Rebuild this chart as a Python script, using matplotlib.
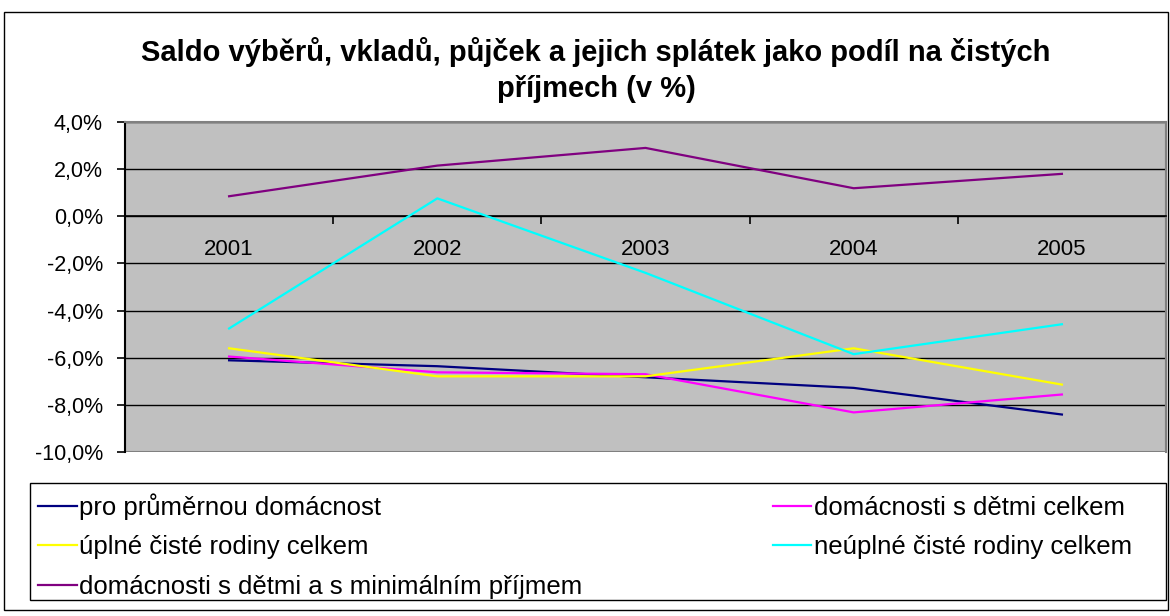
import matplotlib
matplotlib.use('Agg')
import matplotlib.pyplot as plt
from matplotlib.patches import Rectangle

years = ['2001', '2002', '2003', '2004', '2005']
prumerna = [-6.11, -6.36, -6.83, -7.28, -8.41]
s_detmi = [-5.95, -6.62, -6.70, -8.32, -7.56]
uplne = [-5.60, -6.79, -6.79, -5.60, -7.14]
neuplne = [-4.76, 0.76, -2.40, -5.85, -4.58]
minimalni = [0.85, 2.15, 2.90, 1.19, 1.80]

labels = ['pro průměrnou domácnost', 'domácnosti s dětmi celkem',
          'úplné čisté rodiny celkem', 'neúplné čisté rodiny celkem',
          'domácnosti s dětmi a s minimálním příjmem']
colors = ['#000080', '#ff00ff', '#ffff00', '#00ffff', '#800080']
title = ('Saldo výběrů, vkladů, půjček a jejich splátek jako podíl na čistých\n'
         'příjmech (v %)')

plt.rcParams['font.family'] = ['Liberation Sans', 'DejaVu Sans']

W, H = 1170, 616
fig = plt.figure(figsize=(W / 100, H / 100), dpi=100)
ax = fig.add_axes([125 / W, 1 - 452 / H, (1166 - 125) / W, (452 - 122) / H])
ax.set_facecolor('#c0c0c0')

x = list(range(len(years)))
series = [prumerna, s_detmi, uplne, neuplne, minimalni]
lines = []
for vals, lab, c in zip(series, labels, colors):
    ln, = ax.plot(x, vals, color=c, lw=1.6, label=lab, zorder=3)
    lines.append(ln)

ax.set_xlim(-0.5, len(years) - 0.5)
ax.set_ylim(-10, 4)
yt = list(range(-10, 5, 2))
ax.set_yticks(yt)
ax.set_yticklabels([f'{v:.1f}%'.replace('.', ',') for v in yt], fontsize=15.5)
ax.yaxis.grid(True, color='black', lw=1)
ax.set_axisbelow(True)
ax.tick_params(axis='y', direction='out', length=6, width=1.2, pad=10)

# x axis crosses at 0
ax.spines['bottom'].set_position(('data', 0))
ax.spines['bottom'].set_linewidth(1.2)
ax.set_xticks([i - 0.5 for i in range(len(years) + 1)])
ax.set_xticklabels([])
ax.set_xticks(x, minor=True)
ax.set_xticklabels(years, minor=True, fontsize=16)
ax.tick_params(axis='x', which='major', direction='out', length=6, width=1.2)
ax.tick_params(axis='x', which='minor', length=0, pad=16)

ax.spines['left'].set_linewidth(1.5)
for s in ['top', 'right']:
    ax.spines[s].set_color('#808080')
    ax.spines[s].set_linewidth(1.5)
ax.add_patch(Rectangle((0, 0), 1, 1, transform=ax.transAxes, fill=False,
                       ec='#808080', lw=1.5, zorder=1))

fig.text(596 / W, 1 - 70 / H, title, ha='center', va='center',
         fontsize=21, fontweight='bold', linespacing=1.35)

# frames
fig.add_artist(Rectangle((4 / W, 1 - 610 / H), (1168 - 4) / W, (610 - 12) / H,
                         transform=fig.transFigure, fill=False, ec='black', lw=1))
fig.add_artist(Rectangle((30 / W, 1 - 600 / H), (1166 - 30) / W, (600 - 483) / H,
                         transform=fig.transFigure, fill=False, ec='black', lw=1))

order = [0, 2, 4, 1, 3]
fig.legend([lines[i] for i in order], [labels[i] for i in order],
           loc='upper left', bbox_to_anchor=(38 / W, 1 - 493 / H), ncol=2,
           frameon=False, fontsize=18.5, handlelength=1.5, handletextpad=0.1,
           labelspacing=0.6, columnspacing=7.4, borderpad=0, borderaxespad=0)

fig.savefig('out.png', dpi=100)
